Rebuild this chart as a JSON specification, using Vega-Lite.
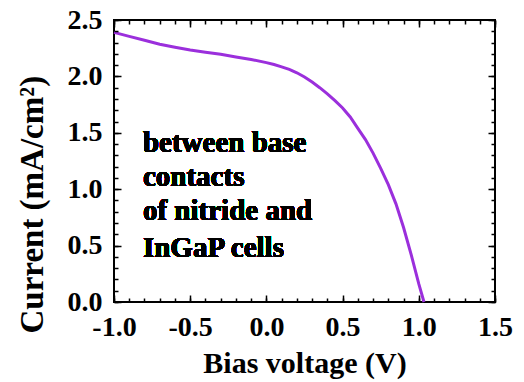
{
  "$schema": "https://vega.github.io/schema/vega-lite/v6.json",
  "width": 381,
  "height": 282,
  "autosize": {"type": "none"},
  "padding": {"left": 114, "top": 20, "right": 29, "bottom": 80},
  "background": "white",
  "config": {
    "view": {"stroke": "black", "strokeWidth": 2, "fill": "transparent"},
    "font": "Liberation Serif",
    "axis": {
      "labelFont": "Liberation Serif",
      "labelFontWeight": "bold",
      "labelFontSize": 28,
      "labelColor": "black",
      "titleFont": "Liberation Serif",
      "titleFontWeight": "bold",
      "titleColor": "black",
      "tickColor": "black",
      "tickWidth": 1.5,
      "tickOpacity": 1,
      "ticks": true,
      "grid": false,
      "domain": false,
      "labelOverlap": false,
      "labelFlush": false
    }
  },
  "data": {
    "values": [
      {"V": -1.0, "I": 2.39},
      {"V": -0.9, "I": 2.355},
      {"V": -0.8, "I": 2.32},
      {"V": -0.7, "I": 2.285},
      {"V": -0.6, "I": 2.258},
      {"V": -0.5, "I": 2.234},
      {"V": -0.4, "I": 2.215},
      {"V": -0.3, "I": 2.196},
      {"V": -0.2, "I": 2.172},
      {"V": -0.1, "I": 2.15},
      {"V": 0.0, "I": 2.122},
      {"V": 0.05, "I": 2.105},
      {"V": 0.1, "I": 2.085},
      {"V": 0.15, "I": 2.062},
      {"V": 0.2, "I": 2.032},
      {"V": 0.25, "I": 1.995},
      {"V": 0.3, "I": 1.95},
      {"V": 0.35, "I": 1.9},
      {"V": 0.4, "I": 1.845},
      {"V": 0.45, "I": 1.785},
      {"V": 0.5, "I": 1.72},
      {"V": 0.55, "I": 1.64},
      {"V": 0.6, "I": 1.54},
      {"V": 0.65, "I": 1.44},
      {"V": 0.7, "I": 1.32},
      {"V": 0.75, "I": 1.185},
      {"V": 0.8, "I": 1.04},
      {"V": 0.85, "I": 0.87},
      {"V": 0.9, "I": 0.66},
      {"V": 0.95, "I": 0.42},
      {"V": 1.0, "I": 0.16},
      {"V": 1.034, "I": 0.0}
    ]
  },
  "layer": [
    {
      "mark": {"type": "line", "color": "#9b2fdc", "strokeWidth": 3},
      "encoding": {
        "x": {
          "field": "V", "type": "quantitative",
          "scale": {"domain": [-1, 1.5], "nice": false, "zero": false},
          "axis": {
            "orient": "bottom",
            "zindex": 3,
            "offset": -7,
            "tickSize": 7,
            "title": "Bias voltage (V)",
            "titleFontSize": 30,
            "titleBaseline": "alphabetic",
            "titleY": 77,
            "values": [-1.0, -0.5, 0.0, 0.5, 1.0, 1.5],
            "labelExpr": "(datum.value < 0 ? '-' : '') + format(abs(datum.value), '.1f')",
            "labelBaseline": "alphabetic",
            "labelPadding": 33
          }
        },
        "y": {
          "field": "I", "type": "quantitative",
          "scale": {"domain": [0, 2.5], "nice": false},
          "axis": {
            "orient": "left",
            "zindex": 3,
            "offset": -7,
            "tickSize": 7,
            "title": "Current (mA/cm²)",
            "titleFontSize": 33,
            "values": [0.0, 0.5, 1.0, 1.5, 2.0, 2.5],
            "format": ".1f",
            "labelPadding": 12,
            "titleAlign": "left",
            "titleAngle": -90,
            "titleY": 313,
            "titleX": -79,
            "titleBaseline": "alphabetic"
          }
        }
      }
    },
    {
      "mark": {
        "type": "text",
        "text": ["between base", "contacts"],
        "align": "left",
        "baseline": "alphabetic",
        "lineHeight": 34,
        "font": "Liberation Serif",
        "fontWeight": "bold",
        "fontSize": 29,
        "color": "black"
      },
      "encoding": {
        "x": {
          "datum": -0.81, "type": "quantitative",
          "axis": {
            "orient": "bottom", "zindex": 3, "offset": -4, "tickSize": 4,
            "title": null, "labels": false,
            "values": [-1.0,-0.9,-0.8,-0.7,-0.6,-0.5,-0.4,-0.3,-0.2,-0.1,0.0,0.1,0.2,0.3,0.4,0.5,0.6,0.7,0.8,0.9,1.0,1.1,1.2,1.3,1.4,1.5]
          }
        },
        "y": {
          "datum": 1.33, "type": "quantitative",
          "axis": {
            "orient": "left", "zindex": 3, "offset": -4, "tickSize": 4,
            "title": null, "labels": false,
            "values": [0.0,0.1,0.2,0.3,0.4,0.5,0.6,0.7,0.8,0.9,1.0,1.1,1.2,1.3,1.4,1.5,1.6,1.7,1.8,1.9,2.0,2.1,2.2,2.3,2.4,2.5]
          }
        }
      }
    },
    {
      "mark": {
        "type": "text",
        "text": "of nitride and",
        "align": "left",
        "baseline": "alphabetic",
        "font": "Liberation Serif",
        "fontWeight": "bold",
        "fontSize": 29,
        "color": "black"
      },
      "encoding": {
        "x": {
          "datum": -0.81, "type": "quantitative",
          "axis": {
            "orient": "top", "zindex": 3, "offset": -7, "tickSize": 7,
            "title": null, "labels": false,
            "values": [-1.0, -0.5, 0.0, 0.5, 1.0, 1.5]
          }
        },
        "y": {
          "datum": 0.727, "type": "quantitative",
          "axis": {
            "orient": "right", "zindex": 3, "offset": -7, "tickSize": 7,
            "title": null, "labels": false,
            "values": [0.0, 0.5, 1.0, 1.5, 2.0, 2.5]
          }
        }
      }
    },
    {
      "mark": {
        "type": "text",
        "text": "InGaP cells",
        "align": "left",
        "baseline": "alphabetic",
        "font": "Liberation Serif",
        "fontWeight": "bold",
        "fontSize": 29,
        "color": "black"
      },
      "encoding": {
        "x": {
          "datum": -0.81, "type": "quantitative",
          "axis": {
            "orient": "top", "zindex": 3, "offset": -4, "tickSize": 4,
            "title": null, "labels": false,
            "values": [-1.0,-0.9,-0.8,-0.7,-0.6,-0.5,-0.4,-0.3,-0.2,-0.1,0.0,0.1,0.2,0.3,0.4,0.5,0.6,0.7,0.8,0.9,1.0,1.1,1.2,1.3,1.4,1.5]
          }
        },
        "y": {
          "datum": 0.402, "type": "quantitative",
          "axis": {
            "orient": "right", "zindex": 3, "offset": -4, "tickSize": 4,
            "title": null, "labels": false,
            "values": [0.0,0.1,0.2,0.3,0.4,0.5,0.6,0.7,0.8,0.9,1.0,1.1,1.2,1.3,1.4,1.5,1.6,1.7,1.8,1.9,2.0,2.1,2.2,2.3,2.4,2.5]
          }
        }
      }
    }
  ],
  "resolve": {"axis": {"x": "independent", "y": "independent"}}
}
